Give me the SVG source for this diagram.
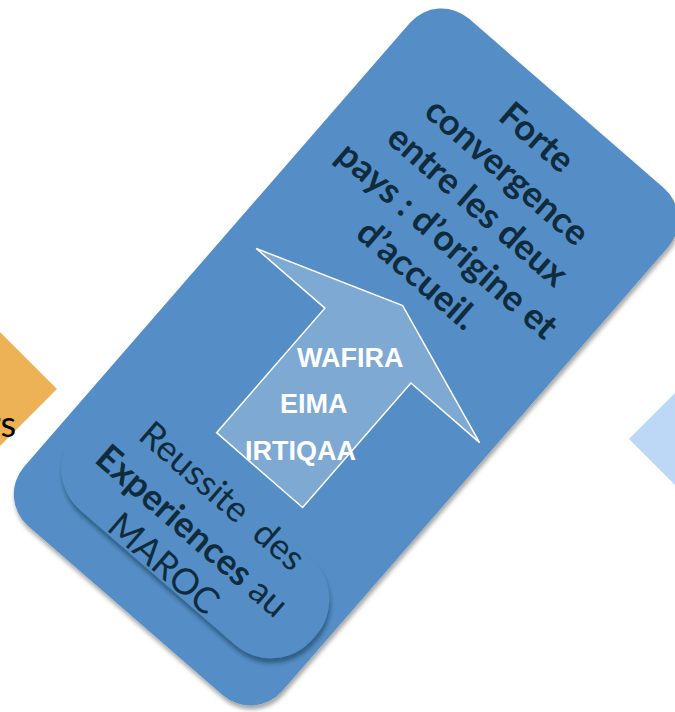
<svg xmlns="http://www.w3.org/2000/svg" width="675" height="712" viewBox="0 0 675 712">
  <defs>
    <filter id="outerShadow" x="-10%" y="-10%" width="130%" height="130%">
      <feDropShadow dx="1" dy="4" stdDeviation="2" flood-color="#000" flood-opacity="0.35"/>
    </filter>
    <filter id="innerShadow" x="-10%" y="-10%" width="130%" height="140%">
      <feDropShadow dx="1" dy="5" stdDeviation="2" flood-color="#0b2036" flood-opacity="0.45"/>
    </filter>
  </defs>
  <style>
    .panel { fill: #548EC6; }
    .bold { font-family: Lato, "Noto Sans", sans-serif; font-weight: bold; font-size: 36px; fill: #0F2C3E; text-anchor: middle; }
    .reg { font-family: Lato, "Noto Sans", sans-serif; font-weight: normal; font-size: 36px; fill: #0F2C3E; text-anchor: middle; }
    .arrowtxt { font-family: "Liberation Sans", Arial, sans-serif; font-weight: bold; font-size: 27px; fill: #FFFFFF; }
  </style>
  <rect width="675" height="712" fill="#FFFFFF"/>

  <g id="orange-shape">
    <polygon points="-80,252 57,389 -80,526" fill="#EDB255"/>
    <text x="16" y="437" font-family="Lato, 'Noto Sans', sans-serif" font-size="36" fill="#000" text-anchor="end">rs</text>
  </g>

  <g id="lightblue-shape">
    <polygon points="629,439 740,328 740,550" fill="#BDD8F6"/>
  </g>

  <g id="main-panel">
    <g filter="url(#outerShadow)">
      <g transform="translate(346,357) rotate(41)">
        <rect class="panel" x="-171" y="-336" width="342" height="672" rx="42"/>
      </g>
    </g>
  </g>

  <g id="inner-panel">
    <g filter="url(#innerShadow)">
      <g transform="translate(346,357) rotate(41)">
        <rect class="panel" x="-155" y="175" width="315" height="115" rx="55"/>
      </g>
    </g>
  </g>

  <g id="arrow">
    <g transform="translate(346,357) rotate(41)">
      <polygon points="9,-76 157,-23 66,-23 66,142 -48,142 -48,-23 -139,-23" fill="#7EA9D3" stroke="#FFFFFF" stroke-width="1.5" stroke-linejoin="miter"/>
    </g>
    <text class="arrowtxt" x="297" y="367">WAFIRA</text>
    <text class="arrowtxt" x="280" y="413">EIMA</text>
    <text class="arrowtxt" x="245" y="460">IRTIQAA</text>
  </g>

  <g id="text-convergence" transform="translate(346,357) rotate(41)">
    <text class="bold" x="0" y="-278.7">Forte</text>
    <text class="bold" x="0" y="-233.3">convergence</text>
    <text class="bold" x="0" y="-188.5">entre les deux</text>
    <text class="bold" x="0" y="-142.2">pays : d’origine et</text>
    <text class="bold" x="0" y="-96.8">d’accueil.</text>
  </g>

  <g id="text-reussite" transform="translate(346,357) rotate(41)">
    <text class="reg" x="-2" y="198.4" xml:space="preserve">Reussite  des</text>
    <text class="reg" x="-2" y="244.5"><tspan font-weight="bold">Experiences</tspan> au</text>
    <text class="reg" x="-2" y="287.8">MAROC</text>
  </g>

  <g id="connectors"/>
</svg>
